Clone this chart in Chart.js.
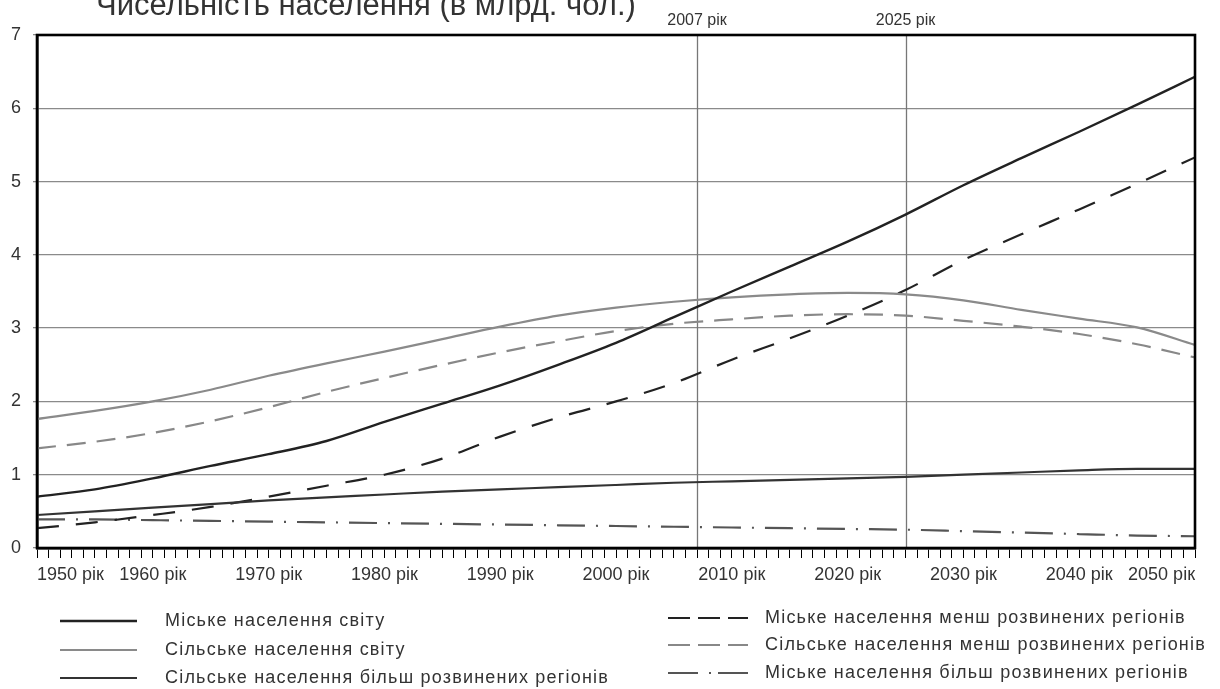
<!DOCTYPE html>
<html>
<head>
<meta charset="utf-8">
<script src="https://cdn.jsdelivr.net/npm/chart.js@4.4.1/dist/chart.umd.min.js"></script>
<style>
  body { margin: 0; background: #fff; }
  canvas { display: block; }
</style>
</head>
<body>
<canvas id="myChart" width="1220" height="689"></canvas>
<script>
// years on the x axis (5-year steps)
const years = [1950, 1955, 1960, 1965, 1970, 1975, 1980, 1985, 1990, 1995, 2000,
  2005, 2010, 2015, 2020, 2025, 2030, 2035, 2040, 2045, 2050];

// population, billions
const urbanWorld = [0.70, 0.80, 0.95, 1.12, 1.28, 1.46, 1.72, 1.97, 2.22, 2.50, 2.80,
  3.15, 3.50, 3.84, 4.18, 4.55, 4.95, 5.32, 5.68, 6.05, 6.43];
const ruralWorld = [1.76, 1.87, 2.00, 2.16, 2.35, 2.52, 2.68, 2.85, 3.02, 3.17, 3.28,
  3.36, 3.42, 3.46, 3.48, 3.46, 3.38, 3.25, 3.13, 3.01, 2.77];
const ruralMoreDev = [0.45, 0.50, 0.55, 0.60, 0.65, 0.69, 0.73, 0.77, 0.80, 0.83, 0.86,
  0.89, 0.91, 0.93, 0.95, 0.97, 1.00, 1.03, 1.06, 1.08, 1.08];
const urbanLessDev = [0.27, 0.35, 0.45, 0.56, 0.70, 0.85, 1.00, 1.22, 1.52, 1.78, 2.00,
  2.25, 2.57, 2.86, 3.17, 3.52, 3.93, 4.28, 4.62, 4.97, 5.33];
const ruralLessDev = [1.36, 1.45, 1.57, 1.73, 1.92, 2.13, 2.32, 2.50, 2.67, 2.82, 2.96,
  3.06, 3.12, 3.17, 3.19, 3.17, 3.10, 3.02, 2.92, 2.78, 2.60];
const urbanMoreDev = [0.39, 0.39, 0.38, 0.37, 0.36, 0.35, 0.34, 0.33, 0.32, 0.31, 0.30,
  0.29, 0.28, 0.27, 0.26, 0.25, 0.23, 0.21, 0.19, 0.17, 0.16];

const seriesNames = [
  "Міське населення світу",
  "Сільське населення світу",
  "Сільське населення більш розвинених регіонів",
  "Міське населення менш розвинених регіонів",
  "Сільське населення менш розвинених регіонів",
  "Міське населення більш розвинених регіонів",
];
const yTicks = [0, 1, 2, 3, 4, 5, 6, 7];
const markerYears = [2007, 2025];
const title = "Чисельність населення (в млрд. чол.)";

const FONT = "'Liberation Sans', Arial, sans-serif";

const toPoints = (arr) => years.map((yr, i) => ({ x: yr, y: arr[i] }));

// dash = in the plot, legendDash = short sample in the legend
const styles = [
  { color: "#222", width: 2.4, dash: [], legendDash: [] },
  { color: "#8a8a8a", width: 2.2, dash: [], legendDash: [] },
  { color: "#333", width: 2.2, dash: [], legendDash: [] },
  { color: "#222", width: 2.2, dash: [22, 17], legendDash: [22, 8] },
  { color: "#888", width: 2.2, dash: [19, 11], legendDash: [22, 8] },
  { color: "#555", width: 2.2, dash: [28, 11, 2, 11], legendDash: [30, 11, 2, 7] },
];
const values = [urbanWorld, ruralWorld, ruralMoreDev, urbanLessDev, ruralLessDev, urbanMoreDev];

const datasets = values.map((arr, i) => ({
  label: seriesNames[i],
  data: toPoints(arr),
  borderColor: styles[i].color,
  borderWidth: styles[i].width,
  borderDash: styles[i].dash,
  pointRadius: 0,
  fill: false,
  cubicInterpolationMode: "monotone",
}));

// markers, frame, title and the two-column legend
const decorations = {
  id: "decorations",
  beforeDatasetsDraw(chart) {
    const { ctx, chartArea, scales } = chart;
    ctx.save();
    ctx.strokeStyle = "#777";
    ctx.lineWidth = 1.3;
    markerYears.forEach((yr) => {
      const x = Math.round(scales.x.getPixelForValue(yr)) + 0.5;
      ctx.beginPath();
      ctx.moveTo(x, chartArea.top);
      ctx.lineTo(x, chartArea.bottom);
      ctx.stroke();
    });
    ctx.restore();
  },
  afterDraw(chart) {
    const { ctx, chartArea, scales } = chart;
    ctx.save();
    // frame
    ctx.strokeStyle = "#000";
    ctx.lineWidth = 2.6;
    ctx.strokeRect(chartArea.left, chartArea.top, chartArea.right - chartArea.left, chartArea.bottom - chartArea.top);

    // marker labels
    ctx.fillStyle = "#333";
    ctx.font = "16px " + FONT;
    ctx.textAlign = "center";
    ctx.textBaseline = "alphabetic";
    markerYears.forEach((yr) => {
      ctx.fillText(yr + " рік", scales.x.getPixelForValue(yr), 25);
    });

    // title, cut by the top edge as in the original
    ctx.textAlign = "left";
    ctx.font = "31px " + FONT;
    ctx.fillText(title, 96, 15);

    // legend
    ctx.font = "18px " + FONT;
    ctx.letterSpacing = "1.2px";
    ctx.textBaseline = "middle";
    const cols = [
      { x0: 60, x1: 137, tx: 165, ys: [621, 650, 678] },
      { x0: 668, x1: 748, tx: 765, ys: [618, 645, 673] },
    ];
    chart.data.datasets.forEach((ds, i) => {
      const col = cols[Math.floor(i / 3)];
      const y = col.ys[i % 3];
      ctx.strokeStyle = ds.borderColor;
      ctx.lineWidth = ds.borderWidth;
      ctx.setLineDash(styles[i].legendDash);
      ctx.beginPath();
      ctx.moveTo(col.x0, y);
      ctx.lineTo(col.x1, y);
      ctx.stroke();
      ctx.setLineDash([]);
      ctx.fillStyle = "#333";
      ctx.fillText(ds.label, col.tx, y);
    });
    ctx.restore();
  },
};

const ctx = document.getElementById("myChart");

new Chart(ctx, {
  type: "line",
  data: { datasets: datasets },
  plugins: [decorations],
  options: {
    responsive: false,
    animation: false,
    devicePixelRatio: 1,
    layout: { padding: { left: 0, top: 35, right: 25, bottom: 99 } },
    plugins: {
      legend: { display: false },
      tooltip: { enabled: false },
    },
    scales: {
      x: {
        type: "linear",
        min: 1950,
        max: 2050,
        afterFit: (scale) => {
          scale.height = 42;
          scale.paddingLeft = 0;
          scale.paddingRight = 0;
        },
        ticks: {
          stepSize: 1,
          autoSkip: false,
          maxRotation: 0,
          align: "inner",
          padding: 6,
          color: "#333",
          font: { family: FONT, size: 18 },
          callback: (v) => (v % 10 === 0 ? v + " рік" : ""),
        },
        grid: {
          drawOnChartArea: false,
          drawTicks: true,
          tickLength: 10,
          color: "#000",
          lineWidth: 1,
        },
        border: { display: true, color: "#000", width: 2.6 },
      },
      y: {
        min: 0,
        max: 7,
        afterFit: (scale) => { scale.width = 37; },
        afterBuildTicks: (scale) => {
          scale.ticks = yTicks.map((v) => ({ value: v }));
        },
        ticks: {
          color: "#333",
          padding: 12,
          font: { family: FONT, size: 18 },
        },
        grid: { color: "#8a8a8a", lineWidth: 1.3, tickLength: 4 },
        border: { display: true, color: "#000", width: 2.6 },
      },
    },
  },
});
</script>
</body>
</html>
